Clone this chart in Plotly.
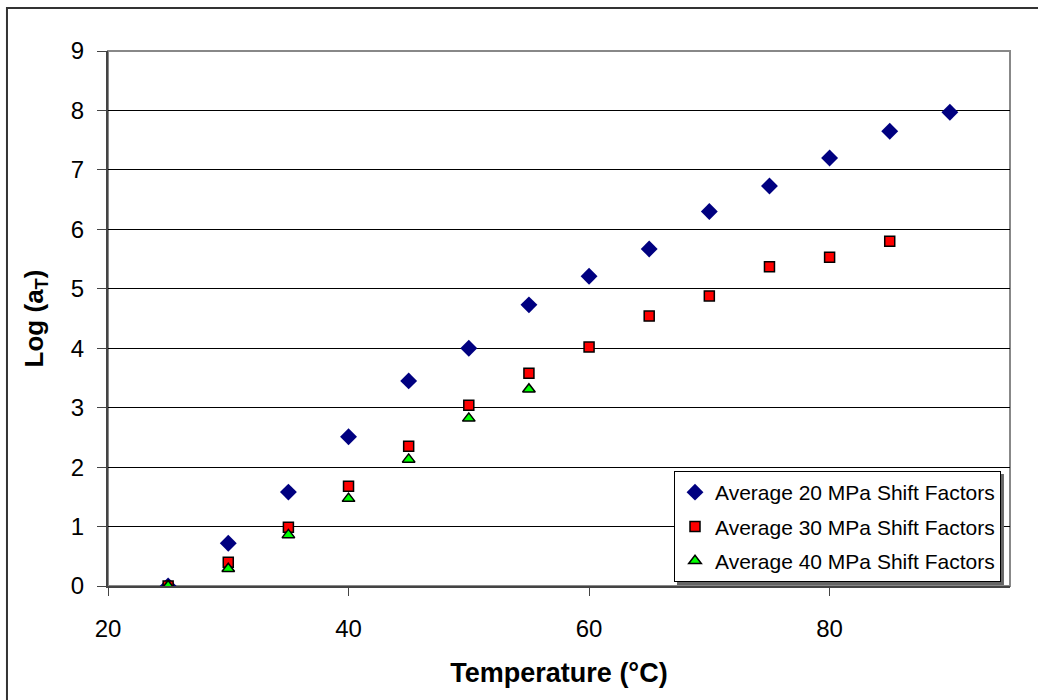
import plotly.graph_objects as go

# Temperature (°C) and log shift factors at three pressures
temp_20 = [25, 30, 35, 40, 45, 50, 55, 60, 65, 70, 75, 80, 85, 90]
log_at_20 = [0.0, 0.72, 1.58, 2.51, 3.45, 4.0, 4.73, 5.21, 5.67, 6.30, 6.73, 7.20, 7.65, 7.97]

temp_30 = [25, 30, 35, 40, 45, 50, 55, 60, 65, 70, 75, 80, 85]
log_at_30 = [0.0, 0.40, 0.99, 1.68, 2.35, 3.04, 3.58, 4.02, 4.54, 4.88, 5.37, 5.53, 5.80]

temp_40 = [25, 30, 35, 40, 45, 50, 55]
log_at_40 = [0.0, 0.29, 0.86, 1.47, 2.13, 2.82, 3.31]

x_ticks = [20, 40, 60, 80]
y_ticks = list(range(0, 10))

FONT = "Liberation Sans, Arial, sans-serif"

fig = go.Figure()

fig.add_trace(go.Scatter(
    x=temp_20, y=log_at_20, mode="markers", name="Average 20 MPa Shift Factors",
    legendgroup="a",
    marker=dict(symbol="diamond", size=13, color="#000080",
                line=dict(color="#000080", width=0)),
))
fig.add_trace(go.Scatter(
    x=temp_30, y=log_at_30, mode="markers", name="Average 30 MPa Shift Factors",
    legendgroup="b",
    marker=dict(symbol="square", size=10, color="#FF0000",
                line=dict(color="#000000", width=1.5)),
))
fig.add_trace(go.Scatter(
    x=temp_40, y=log_at_40, mode="markers", name="Average 40 MPa Shift Factors",
    legendgroup="c",
    marker=dict(symbol="triangle-up", size=11, color="#00FF00",
                line=dict(color="#000000", width=1.5)),
))

# outer chart border
fig.add_shape(type="rect", xref="paper", yref="paper",
              x0=-0.112, x1=1.2, y0=-0.5, y1=1.0804,
              line=dict(color="#333333", width=2), fillcolor="rgba(0,0,0,0)")
# plot-area frame (top and right)
fig.add_shape(type="rect", xref="paper", yref="paper",
              x0=0, x1=1, y0=0, y1=1,
              line=dict(color="#888888", width=2), fillcolor="rgba(0,0,0,0)",
              layer="below")
# legend drop shadow
fig.add_shape(type="rect", xref="paper", yref="paper",
              x0=0.6308, x1=0.9933, y0=0.0019, y1=0.2093,
              line=dict(color="#555555", width=0), fillcolor="#666666")

fig.update_layout(
    width=1038, height=700,
    margin=dict(l=108, r=28, t=51, b=114),
    paper_bgcolor="white", plot_bgcolor="white",
    font=dict(family=FONT, color="#000000", size=24),
    showlegend=True,
    legend=dict(
        x=0.6275, y=0.215, xanchor="left", yanchor="top",
        bgcolor="white", bordercolor="#000000", borderwidth=1,
        font=dict(family=FONT, size=21, color="#000000"),
        tracegroupgap=4, itemwidth=30,
    ),
    xaxis=dict(
        range=[20, 95], tickmode="array", tickvals=x_ticks,
        ticks="outside", ticklen=8, tickcolor="#444444",
        showline=True, linecolor="#444444", linewidth=2,
        showgrid=False, zeroline=False,
        tickfont=dict(family=FONT, size=24), ticklabelstandoff=12,
        title=dict(text="<b>Temperature (°C)</b>", font=dict(family=FONT, size=27), standoff=22),
    ),
    yaxis=dict(
        range=[0, 9], tickmode="array", tickvals=y_ticks,
        ticks="outside", ticklen=9, tickcolor="#444444",
        showline=True, linecolor="#444444", linewidth=2,
        showgrid=True, gridcolor="#000000", gridwidth=1,
        zeroline=False,
        tickfont=dict(family=FONT, size=24), ticklabelstandoff=8,
        title=dict(text="<b>Log (a<sub>T</sub>)</b>", font=dict(family=FONT, size=26), standoff=20),
    ),
)

fig.write_html("out.html")
